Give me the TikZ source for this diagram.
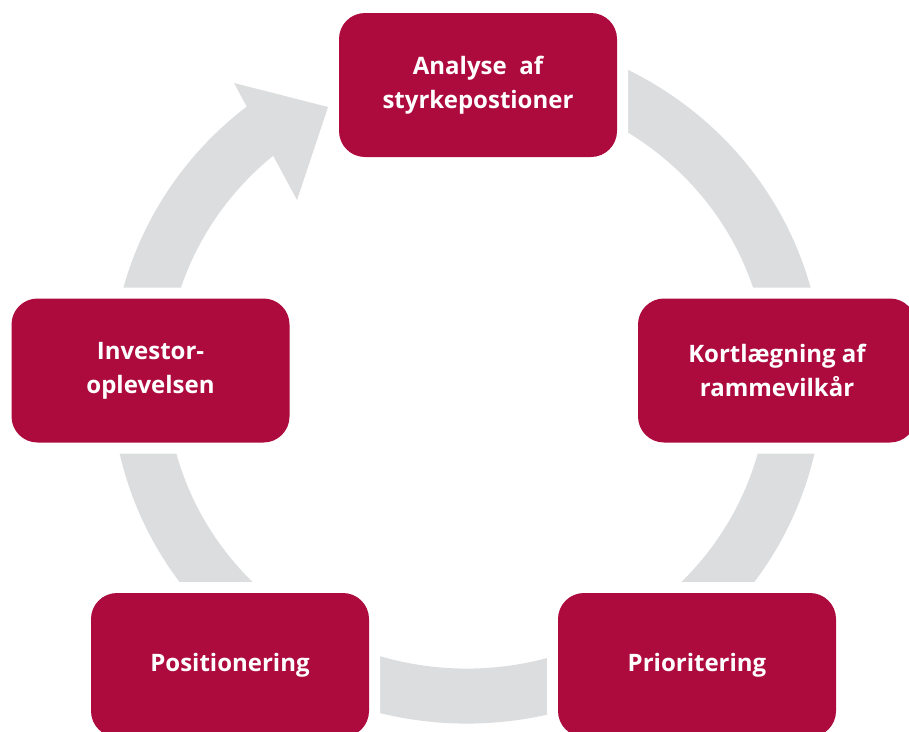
\documentclass[tikz,border=0pt]{standalone}
\usepackage{fontspec}
\setmainfont{Open Sans}
\usepackage{tikz}
\usepackage{xcolor}
\definecolor{crimson}{RGB}{173,11,62}
\definecolor{ringgray}{RGB}{220,221,222}
\tikzstyle{stage} = [rectangle,rounded corners=26pt,fill=crimson,minimum width=278pt,minimum height=144pt,
  preaction={draw=white,line width=22pt},text=white,align=center,
  font=\fontsize{24}{34}\selectfont\bfseries]
\tikzstyle{ring} = [draw=ringgray,line width=55pt]

\begin{document}
\begin{tikzpicture}[x=1pt,y=-1pt]
  \useasboundingbox (0,0) rectangle (909,731);
  \coordinate (c) at (467,378);
  % grey cycle, open between the arrow head and the first stage
  \draw[ring] (c) ++(255:328.5 and 318) arc[start angle=255,end angle=592,x radius=328.5,y radius=318];
  \coordinate (head-a) at (234,83);
  \coordinate (head-tip) at (328,107);
  \coordinate (head-b) at (297,200);
  \fill[ringgray] (head-a) -- (head-tip) -- (head-b) -- cycle;

  \node[stage] (analyse) at (478,85) {Analyse~~af\\styrkepostioner};
  \node[stage] (kort) at (777,370.5) {Kortlægning af\\rammevilkår};
  \node[stage] (prio) at (697,665) {Prioritering};
  \node[stage] (pos) at (230,665) {Positionering};
  \node[stage] (invest) at (150.5,370.5) {Investor-\\oplevelsen};
\end{tikzpicture}
\end{document}
